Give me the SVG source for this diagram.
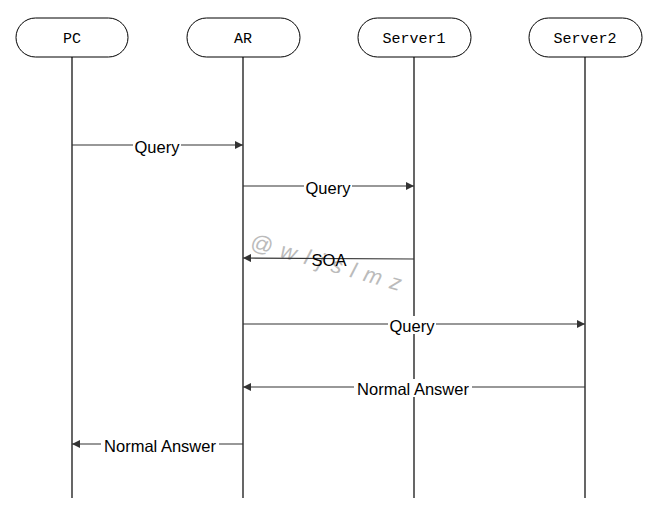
<svg xmlns="http://www.w3.org/2000/svg" width="654" height="520" viewBox="0 0 654 520">
<style>
.node rect{fill:#fff;stroke:#000;stroke-width:1}
.node text{font-family:"Liberation Mono",monospace;font-size:15px;text-anchor:middle;fill:#000}
.life{stroke:#000;stroke-width:1.2}
.msg{stroke:#333;stroke-width:1.2;fill:none}
.lbl{font-family:"Liberation Sans",Arial,sans-serif;font-size:16.5px;text-anchor:middle;fill:#000}
.bg{fill:#fff}
.wm{font-family:"Liberation Sans",Arial,sans-serif;font-size:22px;font-style:italic;fill:#bbb;letter-spacing:9px}
</style>
<defs>
<marker id="ah" viewBox="0 0 10 10" refX="10" refY="5" markerWidth="8" markerHeight="8" markerUnits="userSpaceOnUse" orient="auto">
<path d="M0,0 L10,5 L0,10 z" fill="#333"/>
</marker>
</defs>
<rect width="654" height="520" fill="#fff"/>
<g id="lifelines">
<line class="life" x1="72" y1="57" x2="72" y2="498"/>
<line class="life" x1="243" y1="57" x2="243" y2="498"/>
<line class="life" x1="414" y1="57" x2="414" y2="498"/>
<line class="life" x1="585" y1="57" x2="585" y2="498"/>
</g>
<g id="node-pc" class="node"><rect x="16" y="18" width="112" height="39" rx="19.5"/><text x="72" y="43">PC</text></g>
<g id="node-ar" class="node"><rect x="187" y="18" width="113" height="39" rx="19.5"/><text x="243" y="43">AR</text></g>
<g id="node-server1" class="node"><rect x="358" y="18" width="113" height="39" rx="19.5"/><text x="414" y="43">Server1</text></g>
<g id="node-server2" class="node"><rect x="529" y="18" width="113" height="39" rx="19.5"/><text x="585" y="43">Server2</text></g>
<text class="wm" transform="translate(249,248) rotate(16)">@wljslmz</text>
<g id="connectors">
<line class="msg" x1="72" y1="145" x2="243" y2="145" marker-end="url(#ah)"/>
<rect class="bg" x="133" y="137" width="48" height="18"/>
<text class="lbl" x="157" y="153">Query</text>
<line class="msg" x1="243" y1="186" x2="414" y2="186" marker-end="url(#ah)"/>
<rect class="bg" x="304" y="178" width="48" height="18"/>
<text class="lbl" x="328" y="194">Query</text>
<line class="msg" x1="414" y1="259" x2="243" y2="258" marker-end="url(#ah)"/>
<text class="lbl" x="329" y="266">SOA</text>
<line class="msg" x1="243" y1="324" x2="585" y2="324" marker-end="url(#ah)"/>
<rect class="bg" x="388" y="316" width="48" height="18"/>
<text class="lbl" x="412" y="332">Query</text>
<line class="msg" x1="585" y1="387" x2="243" y2="387" marker-end="url(#ah)"/>
<rect class="bg" x="354" y="379" width="118" height="18"/>
<text class="lbl" x="413" y="395">Normal Answer</text>
<line class="msg" x1="243" y1="444" x2="72" y2="444" marker-end="url(#ah)"/>
<rect class="bg" x="101" y="436" width="118" height="18"/>
<text class="lbl" x="160" y="452">Normal Answer</text>
</g>
</svg>
